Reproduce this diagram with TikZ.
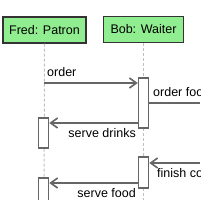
\documentclass[tikz,border=0pt]{standalone}
\usepackage{fontspec}
\setmainfont{Liberation Sans}
\usetikzlibrary{positioning,arrows.meta}
\definecolor{actorgreen}{HTML}{90EE90}

\begin{document}
\begin{tikzpicture}[x=1pt,y=-1pt,
  actor/.style={draw=black!80,fill=actorgreen,line width=1.2pt,minimum height=26pt,inner sep=0pt,font=\fontsize{12.5}{14}\selectfont},
  activation/.style={draw=black!60,fill=white,line width=1.5pt,minimum width=10pt,inner sep=0pt},
  lifeline/.style={draw=black!25,line width=1pt,dash pattern=on 3pt off 2pt},
  msg/.style={draw=black!60,line width=1.6pt,-{Straight Barb[length=7pt,width=10pt]}},
  lbl/.style={font=\fontsize{12.5}{14}\selectfont,inner sep=0pt}]
\clip (0,0) rectangle (200,200);
% participants
\node[actor,minimum width=83pt] (fred) at (44.5,30) {Fred: Patron};
\node[actor,minimum width=80pt] (bob) at (143.5,29.5) {Bob: Waiter};
\coordinate (fredend) at (44,200);
\coordinate (bobend) at (143.5,200);
\draw[lifeline] (fred.south) -- (fredend);
\draw[lifeline] (bob.south) -- (bobend);
% activations
\node[activation,minimum height=50pt] (bact1) at (143.5,103) {};
\node[activation,minimum height=30pt] (fact1) at (43.5,133) {};
\node[activation,minimum height=31pt] (bact2) at (143.5,172.5) {};
\node[activation,minimum height=40pt] (fact2) at (43.5,198) {};
% messages
\coordinate (m1) at (44,83);
\coordinate (m2) at (200,103);
\coordinate (m3) at (0,123);
\coordinate (m4) at (200,163);
\coordinate (m5) at (0,183);
\draw[msg] (m1) -- (m1 -| bact1.west);
\draw[msg,-] (m2 -| bact1.east) -- (m2);
\draw[msg] (m3 -| bact1.west) -- (m3 -| fact1.east);
\draw[msg] (m4) -- (m4 -| bact2.east);
\draw[msg] (m5 -| bact2.west) -- (m5 -| fact2.east);
\node[lbl,anchor=base west] (l1) at (47,77) {order};
\node[lbl,anchor=base west] (l2) at (153,96) {order food};
\node[lbl,anchor=base east] (l3) at (136,137) {serve drinks};
\node[lbl,anchor=base west] (l4) at (157,177) {finish cooking};
\node[lbl,anchor=base east] (l5) at (136,197) {serve food};
\end{tikzpicture}
\end{document}
